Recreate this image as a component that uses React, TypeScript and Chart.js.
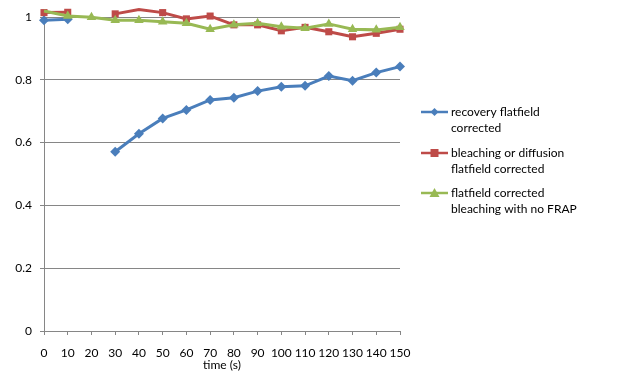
import React, { useEffect, useRef } from "react";
import { Chart, registerables } from "chart.js";

Chart.register(...registerables);

const timeLabels = ["0", "10", "20", "30", "40", "50", "60", "70", "80", "90", "100", "110", "120", "130", "140", "150"];
const recovery = [0.99, 0.993, null, 0.571, 0.628, 0.677, 0.704, 0.736, 0.743, 0.764, 0.778, 0.781, 0.812, 0.797, 0.823, 0.842];
const bleaching = [1.014, 1.015, null, 1.01, 1.024, 1.014, 0.994, 1.003, 0.975, 0.975, 0.956, 0.967, 0.953, 0.937, 0.948, 0.961];
const noFrap = [1.019, 1.003, 0.999, 0.99, 0.99, 0.985, 0.98, 0.961, 0.975, 0.98, 0.969, 0.964, 0.978, 0.961, 0.959, 0.967];
const seriesNames = [
  ["recovery flatfield", "corrected"],
  ["bleaching or diffusion", "flatfield corrected"],
  ["flatfield corrected", "bleaching with no FRAP"],
];
const xTitle = "time (s)";

const FONT = "Lato, 'Open Sans', sans-serif";
const FS = 12;
const BLUE = "#4A7EBB";
const RED = "#BE4B48";
const GREEN = "#98B954";
const GRID = "#868686";

const legendPlugin = {
  id: "sideLegend",
  afterDraw(chart: any) {
    const ctx = chart.ctx;
    const items = chart.data.datasets;
    const startY = [112, 153, 193];
    ctx.save();
    items.forEach((ds: any, i: number) => {
      const y = startY[i];
      ctx.strokeStyle = ds.borderColor;
      ctx.lineWidth = 2.5;
      ctx.beginPath();
      ctx.moveTo(421, y);
      ctx.lineTo(448, y);
      ctx.stroke();
      ctx.fillStyle = ds.backgroundColor;
      const cx = 434.5;
      ctx.beginPath();
      if (ds.pointStyle === "rectRot") {
        ctx.moveTo(cx, y - 4);
        ctx.lineTo(cx + 4, y);
        ctx.lineTo(cx, y + 4);
        ctx.lineTo(cx - 4, y);
      } else if (ds.pointStyle === "rect") {
        ctx.rect(cx - 4, y - 4, 8, 8);
      } else {
        ctx.moveTo(cx, y - 5);
        ctx.lineTo(cx + 5, y + 4);
        ctx.lineTo(cx - 5, y + 4);
      }
      ctx.closePath();
      ctx.fill();
      ctx.fillStyle = "#000";
      ctx.font = `${FS}px ${FONT}`;
      ctx.textBaseline = "middle";
      ctx.textAlign = "left";
      seriesNames[i].forEach((t, j) => ctx.fillText(t, 451, y + j * 16));
    });
    ctx.restore();
  },
};

export default function App() {
  const ref = useRef<HTMLCanvasElement>(null);
  useEffect(() => {
    document.body.style.margin = "0";
    const mk = (label: string, data: (number | null)[], color: string, style: string, r: number, order: number) => ({
      label,
      data,
      borderColor: color,
      backgroundColor: color,
      borderWidth: 3,
      pointStyle: style,
      pointRadius: r,
      pointHoverRadius: r,
      pointBorderWidth: 0,
      tension: 0,
      spanGaps: false,
      clip: false,
      order,
    });
    const chart = new Chart(ref.current!, {
      type: "line",
      data: {
        labels: timeLabels,
        datasets: [
          mk(seriesNames[0].join(" "), recovery, BLUE, "rectRot", 5, 3),
          mk(seriesNames[1].join(" "), bleaching, RED, "rect", 5, 2),
          mk(seriesNames[2].join(" "), noFrap, GREEN, "triangle", 5.5, 1),
        ] as any,
      },
      options: {
        animation: false,
        responsive: false,
        events: [],
        layout: { padding: { top: 17, right: 237, left: 0, bottom: 0 } },
        plugins: { legend: { display: false }, tooltip: { enabled: false } },
        scales: {
          x: {
            type: "category",
            offset: false,
            grid: { drawOnChartArea: false, drawTicks: true, tickLength: 4, color: GRID },
            border: { color: GRID, width: 1 },
            ticks: { color: "#000", font: { family: FONT, size: FS }, padding: 11, maxRotation: 0, autoSkip: false },
            title: { display: true, text: xTitle, color: "#000", font: { family: FONT, size: FS }, padding: { top: 0, bottom: 1 } },
            afterFit: (s: any) => { s.height = 42; },
          },
          y: {
            min: 0,
            max: 1,
            ticks: {
              stepSize: 0.2,
              color: "#000",
              font: { family: FONT, size: FS },
              padding: 8,
              callback: (v: any) => String(Math.round(Number(v) * 10) / 10),
            },
            grid: { color: GRID, tickLength: 4, drawTicks: true },
            border: { color: GRID, width: 1 },
            afterFit: (s: any) => { s.width = 44; },
          },
        },
      },
      plugins: [legendPlugin],
    });
    return () => chart.destroy();
  }, []);
  return (
    <div style={{ width: 637, height: 373 }}>
      <canvas ref={ref} width={637} height={373} style={{ display: "block" }} />
    </div>
  );
}
